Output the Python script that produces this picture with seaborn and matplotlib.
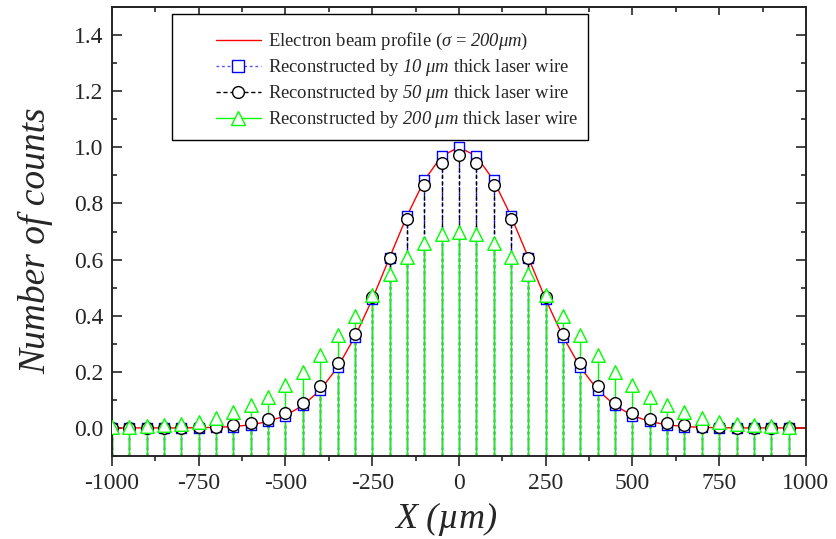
import matplotlib
matplotlib.use("Agg")
import matplotlib.pyplot as plt
from matplotlib.lines import Line2D
from matplotlib.patches import Rectangle
from matplotlib.ticker import MultipleLocator, FormatStrFormatter
import seaborn as sns

# Scan positions of the laser wire (um)
scan_x = [-1000, -950, -900, -850, -800, -750, -700, -650, -600, -550,
          -500, -450, -400, -350, -300, -250, -200, -150, -100, -50,
          0, 50, 100, 150, 200, 250, 300, 350, 400, 450,
          500, 550, 600, 650, 700, 750, 800, 850, 900, 950]

# Electron beam profile (sigma = 200 um)
profile_x = scan_x + [1000]
profile_y = [0.000, 0.000, 0.000, 0.000, 0.000, 0.001, 0.002, 0.005, 0.011, 0.023,
             0.044, 0.080, 0.135, 0.216, 0.325, 0.458, 0.607, 0.755, 0.882, 0.969,
             1.000, 0.969, 0.882, 0.755, 0.607, 0.458, 0.325, 0.216, 0.135, 0.080,
             0.044, 0.023, 0.011, 0.005, 0.002, 0.001, 0.000, 0.000, 0.000, 0.000,
             0.000]

# Reconstructed counts for three laser wire thicknesses
wire_10um = [0.000, 0.000, 0.000, 0.000, 0.000, 0.001, 0.002, 0.005, 0.011, 0.023,
             0.044, 0.080, 0.135, 0.216, 0.325, 0.458, 0.607, 0.755, 0.882, 0.969,
             1.000, 0.969, 0.882, 0.755, 0.607, 0.458, 0.325, 0.216, 0.135, 0.080,
             0.044, 0.023, 0.011, 0.005, 0.002, 0.001, 0.000, 0.000, 0.000, 0.000]
wire_50um = [0.000, 0.000, 0.000, 0.001, 0.001, 0.002, 0.005, 0.010, 0.018, 0.031,
             0.053, 0.090, 0.150, 0.232, 0.335, 0.465, 0.606, 0.745, 0.866, 0.945,
             0.972, 0.945, 0.866, 0.745, 0.606, 0.465, 0.335, 0.232, 0.150, 0.090,
             0.053, 0.031, 0.018, 0.010, 0.005, 0.002, 0.001, 0.001, 0.000, 0.000]
wire_200um = [0.003, 0.004, 0.006, 0.009, 0.014, 0.022, 0.035, 0.055, 0.080, 0.110,
              0.153, 0.200, 0.260, 0.330, 0.400, 0.475, 0.550, 0.610, 0.660, 0.690,
              0.700, 0.690, 0.660, 0.610, 0.550, 0.475, 0.400, 0.330, 0.260, 0.200,
              0.153, 0.110, 0.080, 0.055, 0.035, 0.022, 0.014, 0.009, 0.006, 0.004]

legend_labels = [
    r"Electron beam profile ($\sigma$ = $200\mu m$)",
    r"Reconstructed by $10\ \mu m$ thick laser wire",
    r"Reconstructed by $50\ \mu m$ thick laser wire",
    r"Reconstructed by $200\ \mu m$ thick laser wire",
]

sns.set_style("ticks")
plt.rcParams.update({
    "font.family": ["Liberation Serif", "DejaVu Serif"],
    "mathtext.fontset": "custom",
    "mathtext.rm": "Liberation Serif:italic",
    "mathtext.it": "Liberation Serif:italic",
    "axes.unicode_minus": False,
    "axes.linewidth": 1.4,
})

YMIN, YMAX = -0.1, 1.5
fig = plt.figure(figsize=(8.36, 5.39), dpi=100)
ax = fig.add_axes([0.134, 0.154, 0.830, 0.833])

# beam profile
sns.lineplot(x=profile_x, y=profile_y, color="red", linewidth=1.0, ax=ax, zorder=2)

# drop lines from each point to the bottom axis
ax.vlines(scan_x, YMIN, wire_10um, colors="blue", linestyles=(0, (2.0, 2.0)),
          linewidth=1.0, zorder=2.2)
ax.vlines(scan_x, YMIN, wire_50um, colors="black", linestyles=(0, (3.0, 2.0)),
          linewidth=1.0, zorder=2.3)
ax.vlines(scan_x, YMIN, wire_200um, colors="#00ff00", linestyles="solid",
          linewidth=1.0, zorder=2.4)

# point markers
sns.scatterplot(x=scan_x, y=wire_10um, marker="s", s=62, facecolor="white",
                edgecolor="blue", linewidth=1.0, ax=ax, zorder=3)
sns.scatterplot(x=scan_x, y=wire_50um, marker="o", s=70, facecolor="white",
                edgecolor="black", linewidth=1.0, ax=ax, zorder=4)
sns.scatterplot(x=scan_x, y=wire_200um, marker="^", s=95, facecolor="white",
                edgecolor="#00ff00", linewidth=1.0, ax=ax, zorder=5)

ax.set_xlim(-1000, 1000)
ax.set_ylim(YMIN, YMAX)
ax.xaxis.set_major_locator(MultipleLocator(250))
ax.xaxis.set_minor_locator(MultipleLocator(125))
ax.yaxis.set_major_locator(MultipleLocator(0.2))
ax.yaxis.set_minor_locator(MultipleLocator(0.1))
ax.yaxis.set_major_formatter(FormatStrFormatter("%.1f"))

ax.tick_params(axis="x", which="both", direction="out", bottom=True, top=False,
               labelsize=17, pad=5, width=1.2)
ax.tick_params(axis="y", which="both", direction="in", left=True, right=True,
               labelsize=17, pad=6, width=1.2)
ax.tick_params(which="major", length=7)
ax.tick_params(which="minor", length=3.6)

top = ax.secondary_xaxis("top")
top.xaxis.set_major_locator(MultipleLocator(250))
top.xaxis.set_minor_locator(MultipleLocator(125))
top.tick_params(which="both", direction="in", labeltop=False, width=1.2)
top.tick_params(which="major", length=6)
top.tick_params(which="minor", length=3.6)

for side in ax.spines.values():
    side.set_visible(True)
    side.set_linewidth(1.4)

ax.set_xlabel("X (\u00b5m)", fontsize=26, fontstyle="italic", labelpad=7)
ax.xaxis.label.set_x(0.482)
ax.set_ylabel("Number of counts", fontsize=27, fontstyle="italic", labelpad=15)
ax.yaxis.label.set_y(0.48)

# legend with its own frame
frame_l, frame_t, frame_r, frame_b = 172, 14, 588, 140
W, H = 836, 539
ax.add_patch(Rectangle((frame_l / W, 1 - frame_b / H), (frame_r - frame_l) / W,
                       (frame_b - frame_t) / H, transform=fig.transFigure,
                       facecolor="white", edgecolor="black", linewidth=1.0,
                       zorder=6, clip_on=False))

handles = [
    Line2D([], [], color="red", linewidth=1.0),
    Line2D([], [], color="#5555ff", linestyle=(0, (2, 2)), linewidth=1.0,
           marker="s", markersize=8, markerfacecolor="white",
           markeredgecolor="blue", markeredgewidth=1.0),
    Line2D([], [], color="black", linestyle=(0, (3, 2)), linewidth=1.0,
           marker="o", markersize=8.5, markerfacecolor="white",
           markeredgecolor="black", markeredgewidth=1.0),
    Line2D([], [], color="#00ff00", linestyle="solid", linewidth=1.0,
           marker="^", markersize=9.5, markerfacecolor="white",
           markeredgecolor="#00ff00", markeredgewidth=1.0),
]
leg = ax.legend(handles, legend_labels, loc="upper left",
                bbox_to_anchor=(216 / W, 1 - 31 / H),
                bbox_transform=fig.transFigure, frameon=False, fontsize=13.4,
                borderpad=0, borderaxespad=0, handlelength=2.4,
                handletextpad=0.42, labelspacing=0.27, numpoints=1)
leg.set_zorder(7)

fig.savefig("out.png", dpi=100)
